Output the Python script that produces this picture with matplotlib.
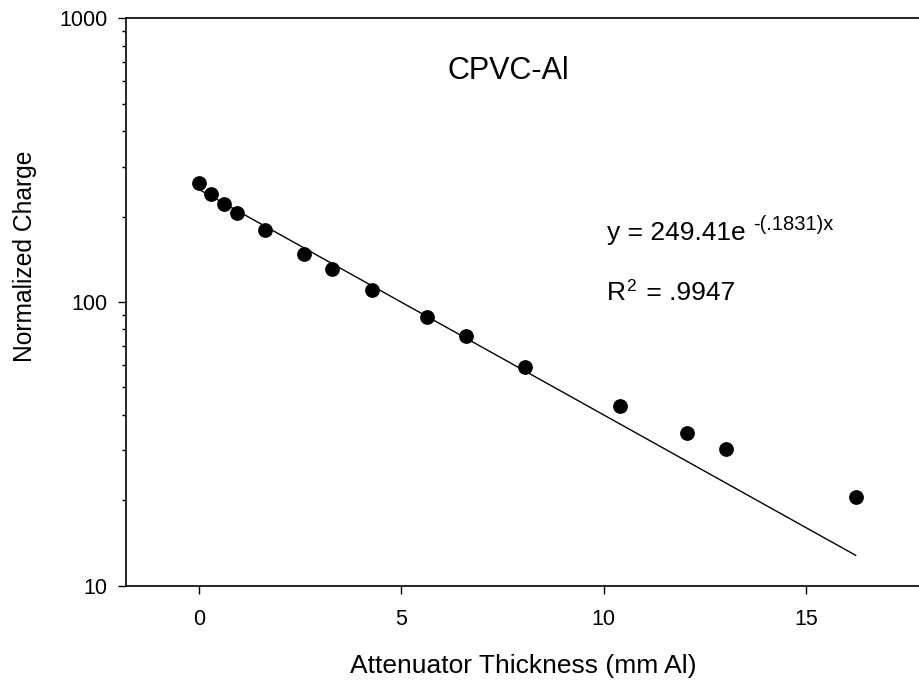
import numpy as np
import matplotlib.pyplot as plt

# CPVC-Al attenuation data
thickness = [0.0, 0.30, 0.62, 0.94, 1.63, 2.60, 3.29, 4.27, 5.63, 6.59, 8.06, 10.39, 12.05, 13.01, 16.22]
charge = [262, 240, 222, 206, 180, 148, 131, 110, 88.5, 75.8, 58.8, 42.9, 34.5, 30.3, 20.5]

# exponential fit reported on the chart
fit_a = 249.41
fit_b = 0.1831

plt.rcParams['font.family'] = ['Liberation Sans', 'DejaVu Sans']

fig = plt.figure(figsize=(9.2, 6.82), dpi=100)
ax = fig.add_axes([0.137, 0.1412, 0.8714, 0.832])

xs = np.linspace(min(thickness), max(thickness), 100)
ax.plot(xs, fit_a * np.exp(-fit_b * xs), color='black', lw=1.0, zorder=2)
ax.plot(thickness, charge, 'o', color='black', ms=9.6, zorder=3)

ax.set_yscale('log')
ax.set_xlim(-1.8, 18)
ax.set_ylim(10, 1000)
ax.set_xticks([0, 5, 10, 15])
ax.set_yticks([10, 100, 1000])
ax.set_yticklabels(['10', '100', '1000'])

for s in ax.spines.values():
    s.set_linewidth(1.2)
ax.spines['right'].set_visible(False)
ax.tick_params(axis='both', which='major', direction='out', length=5.5, width=1.0, labelsize=15.5)
ax.tick_params(axis='x', pad=11)
ax.tick_params(axis='y', pad=8)
ax.tick_params(axis='y', which='minor', direction='out', length=3, width=1.0)
ax.tick_params(axis='x', which='minor', bottom=False)

ax.set_xlabel('Attenuator Thickness (mm Al)', fontsize=19, va='center')
ax.xaxis.set_label_coords(0.496, -0.1415)
ax.set_ylabel('Normalized Charge', fontsize=17.7, va='center')
ax.yaxis.set_label_coords(-0.126, 0.581)

ax.text(7.64, 613, 'CPVC-Al', fontsize=22, ha='center', va='baseline')

# fit equation with superscript exponent
eq = ax.text(10.07, 165, 'y = 249.41e ', fontsize=19, ha='left', va='baseline')
ax.annotate('-(.1831)x', xy=(1, 0.45), xycoords=eq, fontsize=14.5, ha='left', va='bottom')

r2 = ax.text(10.07, 102, 'R', fontsize=19, ha='left', va='baseline')
ax.annotate('2', xy=(1, 0.45), xycoords=r2, fontsize=12.5, ha='left', va='bottom')
ax.annotate(' = .9947', xy=(10.07, 102), xycoords='data', fontsize=19, ha='left', va='baseline',
            xytext=(32, 0), textcoords='offset pixels')

fig.savefig('out.png', dpi=100)
